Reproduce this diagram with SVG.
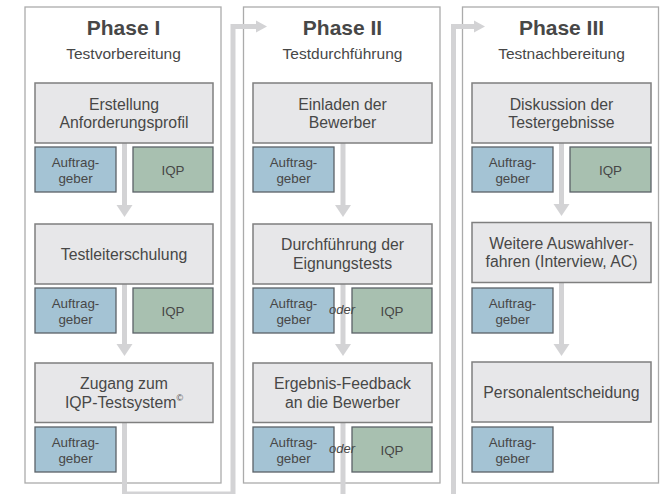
<svg xmlns="http://www.w3.org/2000/svg" width="662" height="494" viewBox="0 0 662 494">
<style>
text{font-family:"Liberation Sans",Arial,sans-serif;fill:#474747;text-anchor:middle}
.panel{fill:none;stroke:#ababab;stroke-width:1.3}
.title{font-size:21px;font-weight:bold}
.sub{font-size:15.5px}
.step{fill:#e7e7e9;stroke:#7f7f7f;stroke-width:1.5}
.st{font-size:15.8px}
.blue{fill:#a4c3d4;stroke:#5b6268;stroke-width:1.3}
.green{fill:#a8c0b0;stroke:#5b6268;stroke-width:1.3}
.sm{font-size:13.4px}
.oder{font-size:13px;font-style:italic}
.bar{fill:none;stroke:#d3d3d5;stroke-width:5}
.head{fill:#d3d3d5}
</style>
<rect width="662" height="494" fill="#ffffff"/>
<g id="panels">
<rect class="panel" x="25" y="7" width="196" height="476"/>
<rect class="panel" x="243.5" y="7" width="196.5" height="476"/>
<rect class="panel" x="462.5" y="7" width="196" height="476"/>
</g>
<g id="connectors">
<path class="bar" d="M124.5 143V206M124.5 284V345M124.5 422V494H233V26.5H257"/>
<polygon class="head" points="116.5,205 132.5,205 124.5,217"/>
<polygon class="head" points="116.5,344 132.5,344 124.5,356"/>
<polygon class="head" points="256,20.5 256,32.5 267,26.5"/>
<path class="bar" d="M343 143V206M343 284V345M343 422V498H453.5V26.5H475"/>
<polygon class="head" points="335,205 351,205 343,217"/>
<polygon class="head" points="335,344 351,344 343,356"/>
<polygon class="head" points="474,20.5 474,32.5 485,26.5"/>
<path class="bar" d="M561.5 143V205M561.5 282V345"/>
<polygon class="head" points="553.5,204 569.5,204 561.5,216"/>
<polygon class="head" points="553.5,344 569.5,344 561.5,356"/>
</g>
<g id="phase1">
<text class="title" x="123.5" y="35">Phase I</text>
<text class="sub" x="123.5" y="59">Testvorbereitung</text>
</g>
<g id="p1s1"><rect class="step" x="35" y="83" width="178" height="60"/><text class="st" x="124" y="109.5">Erstellung</text><text class="st" x="124" y="128">Anforderungsprofil</text></g>
<g id="p1a1"><rect class="blue" x="35" y="147" width="81" height="45"/><text class="sm" x="75.5" y="167">Auftrag-</text><text class="sm" x="75.5" y="182.5">geber</text></g>
<g id="p1i1"><rect class="green" x="133" y="147" width="80" height="45"/><text class="sm" x="173" y="174.5">IQP</text></g>
<g id="p1s2"><rect class="step" x="35" y="224" width="178" height="60"/><text class="st" x="124" y="259.5">Testleiterschulung</text></g>
<g id="p1a2"><rect class="blue" x="35" y="288" width="81" height="45"/><text class="sm" x="75.5" y="308">Auftrag-</text><text class="sm" x="75.5" y="323.5">geber</text></g>
<g id="p1i2"><rect class="green" x="133" y="288" width="80" height="45"/><text class="sm" x="173" y="315.5">IQP</text></g>
<g id="p1s3"><rect class="step" x="35" y="363" width="178" height="59.5"/><text class="st" x="124" y="389">Zugang zum</text><text class="st" x="124" y="407.5">IQP-Testsystem<tspan font-size="9" dy="-6.5">©</tspan></text></g>
<g id="p1a3"><rect class="blue" x="35" y="427" width="81" height="45"/><text class="sm" x="75.5" y="447">Auftrag-</text><text class="sm" x="75.5" y="462.5">geber</text></g>
<g id="phase2">
<text class="title" x="342.5" y="35">Phase II</text>
<text class="sub" x="342.5" y="59">Testdurchführung</text>
</g>
<g id="p2s1"><rect class="step" x="253" y="83" width="179" height="60"/><text class="st" x="342.5" y="109.5">Einladen der</text><text class="st" x="342.5" y="128">Bewerber</text></g>
<g id="p2a1"><rect class="blue" x="253" y="147" width="81" height="45"/><text class="sm" x="293.5" y="167">Auftrag-</text><text class="sm" x="293.5" y="182.5">geber</text></g>
<g id="p2s2"><rect class="step" x="253" y="224" width="179" height="60"/><text class="st" x="342.5" y="250">Durchführung der</text><text class="st" x="342.5" y="268.5">Eignungstests</text></g>
<g id="p2a2"><rect class="blue" x="253" y="288" width="81" height="45"/><text class="sm" x="293.5" y="308">Auftrag-</text><text class="sm" x="293.5" y="323.5">geber</text></g>
<g id="p2i2"><rect class="green" x="352" y="288" width="80" height="45"/><text class="sm" x="392" y="315.5">IQP</text></g>
<text class="oder" x="342" y="313.5">oder</text>
<g id="p2s3"><rect class="step" x="253" y="363" width="179" height="59.5"/><text class="st" x="342.5" y="389">Ergebnis-Feedback</text><text class="st" x="342.5" y="407.5">an die Bewerber</text></g>
<g id="p2a3"><rect class="blue" x="253" y="427" width="81" height="45"/><text class="sm" x="293.5" y="447">Auftrag-</text><text class="sm" x="293.5" y="462.5">geber</text></g>
<g id="p2i3"><rect class="green" x="352" y="427" width="80" height="45"/><text class="sm" x="392" y="454.5">IQP</text></g>
<text class="oder" x="342" y="452.5">oder</text>
<g id="phase3">
<text class="title" x="561.5" y="35">Phase III</text>
<text class="sub" x="561.5" y="59">Testnachbereitung</text>
</g>
<g id="p3s1"><rect class="step" x="472" y="83" width="179" height="60"/><text class="st" x="561.5" y="109.5">Diskussion der</text><text class="st" x="561.5" y="128">Testergebnisse</text></g>
<g id="p3a1"><rect class="blue" x="472" y="147" width="81" height="45"/><text class="sm" x="512.5" y="167">Auftrag-</text><text class="sm" x="512.5" y="182.5">geber</text></g>
<g id="p3i1"><rect class="green" x="570" y="147" width="81" height="45"/><text class="sm" x="610.5" y="174.5">IQP</text></g>
<g id="p3s2"><rect class="step" x="472" y="222.5" width="179" height="60"/><text class="st" x="561.5" y="248.5">Weitere Auswahlver-</text><text class="st" x="561.5" y="267">fahren (Interview, AC)</text></g>
<g id="p3a2"><rect class="blue" x="472" y="288" width="81" height="45"/><text class="sm" x="512.5" y="308">Auftrag-</text><text class="sm" x="512.5" y="323.5">geber</text></g>
<g id="p3s3"><rect class="step" x="472" y="362" width="179" height="60"/><text class="st" x="561.5" y="397.5">Personalentscheidung</text></g>
<g id="p3a3"><rect class="blue" x="472" y="427" width="81" height="45"/><text class="sm" x="512.5" y="447">Auftrag-</text><text class="sm" x="512.5" y="462.5">geber</text></g>
</svg>
